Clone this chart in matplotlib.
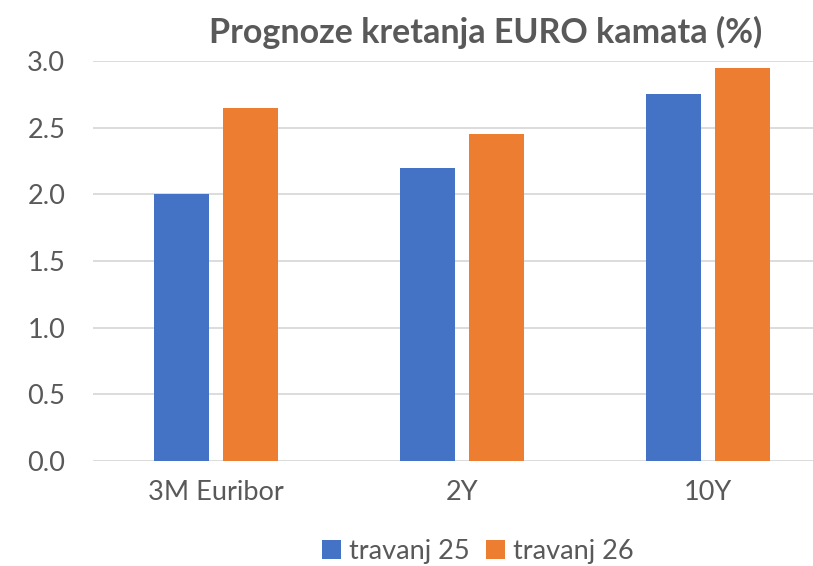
import matplotlib
matplotlib.use("Agg")
import matplotlib.pyplot as plt
import numpy as np

categories = ["3M Euribor", "2Y", "10Y"]
series_names = ["travanj 25", "travanj 26"]
apr25 = [2.0, 2.2, 2.75]
apr26 = [2.65, 2.45, 2.95]
yticks = [0.0, 0.5, 1.0, 1.5, 2.0, 2.5, 3.0]

BLUE = "#4472C4"
ORANGE = "#ED7D31"
TEXT = "#595959"
GRID = "#D9D9D9"

plt.rcParams["font.family"] = ["Lato", "DejaVu Sans"]

fig = plt.figure(figsize=(8.13, 5.66), dpi=100)
ax = fig.add_axes([93 / 813, 105 / 566, 720 / 813, 400 / 566])

x = np.arange(len(categories))
w = 0.222
ax.bar(x - 0.141, apr25, w, color=BLUE, label=series_names[0], zorder=3)
ax.bar(x + 0.141, apr26, w, color=ORANGE, label=series_names[1], zorder=3)

ax.set_xlim(-0.5, 2.427)
ax.set_ylim(0, 3.0)
ax.set_yticks(yticks)
ax.set_yticklabels([f"{v:.1f}" for v in yticks])
ax.set_xticks(x)
ax.set_xticklabels(categories)
ax.yaxis.grid(True, color=GRID, linewidth=1.3, zorder=0)
ax.tick_params(axis="both", length=0, labelsize=19.5, colors=TEXT)
ax.tick_params(axis="x", pad=14)
ax.tick_params(axis="y", pad=20)
for side in ["top", "right", "left", "bottom"]:
    ax.spines[side].set_visible(False)

fig.text(486 / 813, 1 - 32 / 566, "Prognoze kretanja EURO kamata (%)",
         ha="center", va="center", fontsize=24.5, fontweight="bold", color=TEXT)

fig.legend(loc="center", bbox_to_anchor=(478 / 813, 1 - 551 / 566), ncol=2,
           frameon=False, fontsize=19.5, labelcolor=TEXT, handlelength=0.7,
           handleheight=0.7, handletextpad=0.3, columnspacing=0.6)

fig.savefig("out.png", dpi=100)
